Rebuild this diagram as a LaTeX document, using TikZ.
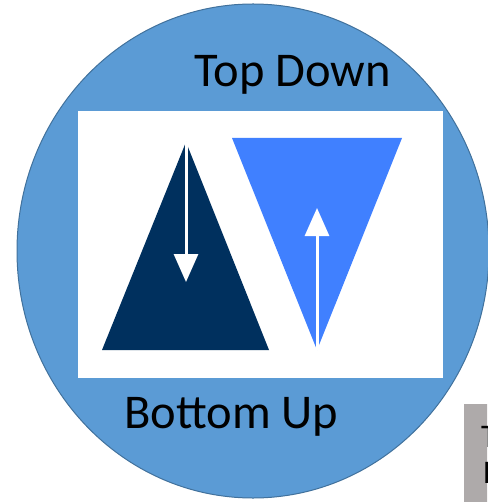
\documentclass[tikz,border=0pt]{standalone}
\usepackage{fontspec}
\setmainfont{Carlito}
\usepackage{xcolor}
\usetikzlibrary{arrows.meta, positioning}

\definecolor{discblue}{RGB}{91,155,213}
\definecolor{discedge}{RGB}{65,113,156}
\definecolor{navytri}{RGB}{0,48,94}
\definecolor{skytri}{RGB}{64,128,255}
\definecolor{notegray}{RGB}{174,170,170}

\begin{document}
\begin{tikzpicture}[
        x=1pt, y=-1pt,
        panel/.style={
            fill=white,
            inner sep=0pt,
            minimum width=365pt,
            minimum height=267pt
        },
        caption/.style={
            inner sep=0pt,
            anchor=base west,
            font=\fontsize{48.5}{58}\selectfont
        },
        notetext/.style={
            inner sep=0pt,
            anchor=base west,
            font=\fontsize{33}{40}\selectfont
        },
        flow/.style={-{Triangle[width=24pt, length=28pt]}, white, line width=3pt}
    ]
        \useasboundingbox (0,0) rectangle (487,502);

        % round background
        \draw[fill=discblue, draw=discedge, line width=1pt] (253,251) ellipse [x radius=236, y radius=247];
        \node[panel] (panel) at (260.5,244.5) {};

        % the two triangles
        \fill[navytri] (102,350) -- (186,142) -- (269,350) -- cycle;
        \fill[skytri] (232,138) -- (402,138) -- (317,350) -- cycle;

        \coordinate (downstart) at (186,142);
        \coordinate (downtip) at (186,282);
        \coordinate (upstart) at (317,350);
        \coordinate (uptip) at (317,208);
        \draw[flow] (downstart) -- (downtip);
        \draw[flow] (upstart) -- (uptip);

        \node[caption] (topdown) at (194,87) {Top Down};
        \node[caption] (bottomup) at (124,428) {Bottom Up};

        % cut-off note box
        \begin{scope}
            \clip (0,0) rectangle (487,502);
            \fill[notegray] (464,404) rectangle (500,510);
            \node[notetext] (noteone) at (481,447) {T};
            \node[notetext] (notetwo) at (483,483) {B};
        \end{scope}
    \end{tikzpicture}
\end{document}
